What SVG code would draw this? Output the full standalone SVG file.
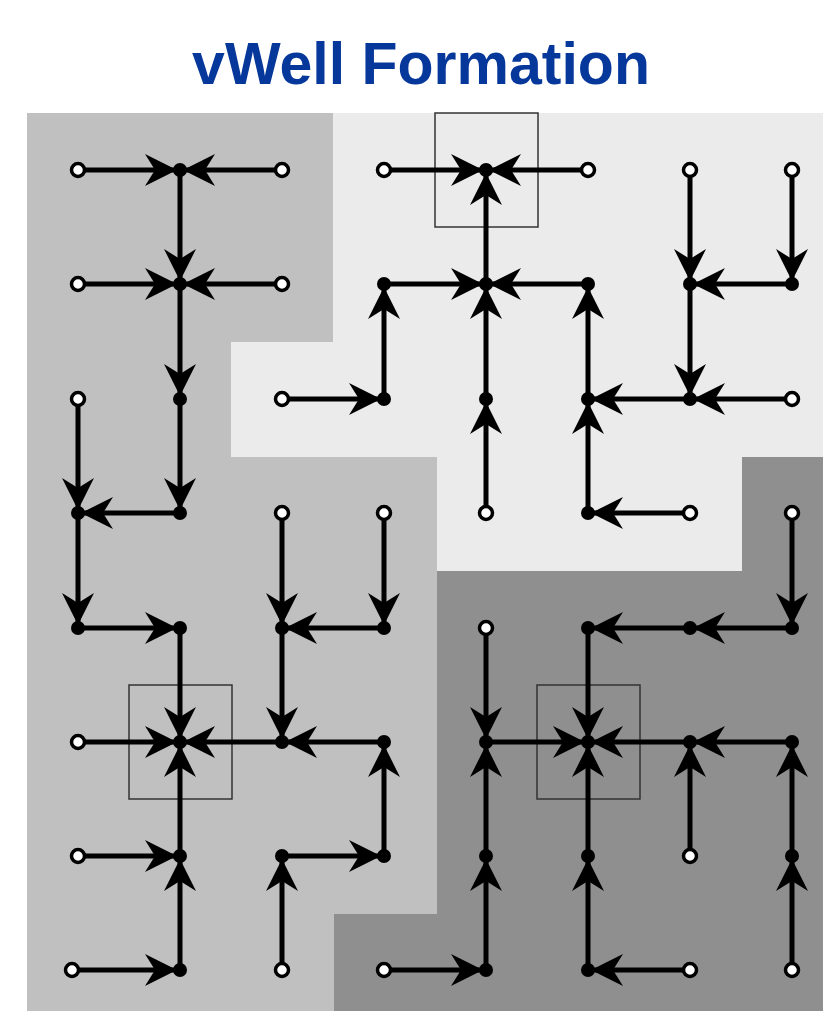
<svg xmlns="http://www.w3.org/2000/svg" width="823" height="1011" viewBox="0 0 823 1011">
<style>
.e{stroke:#000;stroke-width:5;fill:none;marker-end:url(#ah)}
.o{fill:#fff;stroke:#000;stroke-width:3.5}
.d{fill:#000}
.box{fill:none;stroke:#333;stroke-width:1.5}
.title{font-family:"Liberation Sans",Arial,sans-serif;font-weight:bold;font-size:59px;fill:#06379a}
</style>
<defs>
<marker id="ah" viewBox="-38 -17 42 34" refX="0" refY="0" markerWidth="42" markerHeight="34" markerUnits="userSpaceOnUse" orient="auto">
<path d="M-3,0 L-35,-16 L-25,0 L-35,16 Z" fill="#000"/>
</marker>
</defs>
<rect width="823" height="1011" fill="#fff"/>
<text class="title" x="421" y="84" text-anchor="middle">vWell Formation</text>
<g id="regions">
<polygon fill="#c0c0c0" points="27,113 333,113 333,342 231,342 231,457 437,457 437,914 334,914 334,1011 27,1011"/>
<polygon fill="#ebebeb" points="333,113 823,113 823,457 742,457 742,571 437,571 437,457 231,457 231,342 333,342"/>
<polygon fill="#8f8f8f" points="742,457 823,457 823,1011 334,1011 334,914 437,914 437,571 742,571"/>
</g>
<g id="boxes">
<rect class="box" x="435" y="113" width="103" height="114"/>
<rect class="box" x="129" y="685" width="103" height="114"/>
<rect class="box" x="537" y="685" width="103" height="114"/>
</g>
<g id="connectors">
<line class="e" x1="78" y1="170" x2="180" y2="170"/>
<line class="e" x1="282" y1="170" x2="180" y2="170"/>
<line class="e" x1="180" y1="170" x2="180" y2="284"/>
<line class="e" x1="78" y1="284" x2="180" y2="284"/>
<line class="e" x1="282" y1="284" x2="180" y2="284"/>
<line class="e" x1="180" y1="284" x2="180" y2="399"/>
<line class="e" x1="78" y1="399" x2="78" y2="513"/>
<line class="e" x1="180" y1="399" x2="180" y2="513"/>
<line class="e" x1="180" y1="513" x2="78" y2="513"/>
<line class="e" x1="78" y1="513" x2="78" y2="628"/>
<line class="e" x1="78" y1="628" x2="180" y2="628"/>
<line class="e" x1="180" y1="628" x2="180" y2="742"/>
<line class="e" x1="282" y1="513" x2="282" y2="628"/>
<line class="e" x1="384" y1="513" x2="384" y2="628"/>
<line class="e" x1="384" y1="628" x2="282" y2="628"/>
<line class="e" x1="282" y1="628" x2="282" y2="742"/>
<line class="e" x1="78" y1="742" x2="180" y2="742"/>
<line class="e" x1="282" y1="742" x2="180" y2="742"/>
<line class="e" x1="384" y1="742" x2="282" y2="742"/>
<line class="e" x1="180" y1="856" x2="180" y2="742"/>
<line class="e" x1="78" y1="856" x2="180" y2="856"/>
<line class="e" x1="180" y1="970" x2="180" y2="856"/>
<line class="e" x1="72" y1="970" x2="180" y2="970"/>
<line class="e" x1="282" y1="970" x2="282" y2="856"/>
<line class="e" x1="282" y1="856" x2="384" y2="856"/>
<line class="e" x1="384" y1="856" x2="384" y2="742"/>
<line class="e" x1="384" y1="170" x2="486" y2="170"/>
<line class="e" x1="588" y1="170" x2="486" y2="170"/>
<line class="e" x1="486" y1="284" x2="486" y2="170"/>
<line class="e" x1="384" y1="284" x2="486" y2="284"/>
<line class="e" x1="588" y1="284" x2="486" y2="284"/>
<line class="e" x1="486" y1="399" x2="486" y2="284"/>
<line class="e" x1="486" y1="513" x2="486" y2="399"/>
<line class="e" x1="384" y1="399" x2="384" y2="284"/>
<line class="e" x1="282" y1="399" x2="384" y2="399"/>
<line class="e" x1="588" y1="399" x2="588" y2="284"/>
<line class="e" x1="690" y1="399" x2="588" y2="399"/>
<line class="e" x1="588" y1="513" x2="588" y2="399"/>
<line class="e" x1="690" y1="513" x2="588" y2="513"/>
<line class="e" x1="690" y1="170" x2="690" y2="284"/>
<line class="e" x1="792" y1="170" x2="792" y2="284"/>
<line class="e" x1="792" y1="284" x2="690" y2="284"/>
<line class="e" x1="690" y1="284" x2="690" y2="399"/>
<line class="e" x1="792" y1="399" x2="690" y2="399"/>
<line class="e" x1="792" y1="513" x2="792" y2="628"/>
<line class="e" x1="792" y1="628" x2="690" y2="628"/>
<line class="e" x1="690" y1="628" x2="588" y2="628"/>
<line class="e" x1="588" y1="628" x2="588" y2="742"/>
<line class="e" x1="486" y1="628" x2="486" y2="742"/>
<line class="e" x1="486" y1="742" x2="588" y2="742"/>
<line class="e" x1="690" y1="742" x2="588" y2="742"/>
<line class="e" x1="792" y1="742" x2="690" y2="742"/>
<line class="e" x1="690" y1="856" x2="690" y2="742"/>
<line class="e" x1="792" y1="856" x2="792" y2="742"/>
<line class="e" x1="792" y1="970" x2="792" y2="856"/>
<line class="e" x1="588" y1="856" x2="588" y2="742"/>
<line class="e" x1="588" y1="970" x2="588" y2="856"/>
<line class="e" x1="690" y1="970" x2="588" y2="970"/>
<line class="e" x1="486" y1="856" x2="486" y2="742"/>
<line class="e" x1="486" y1="970" x2="486" y2="856"/>
<line class="e" x1="384" y1="970" x2="486" y2="970"/>
</g>
<g id="nodes">
<g id="n00"><circle class="o" cx="78" cy="170" r="6.5"/></g>
<g id="n10"><circle class="d" cx="180" cy="170" r="7"/></g>
<g id="n20"><circle class="o" cx="282" cy="170" r="6.5"/></g>
<g id="n30"><circle class="o" cx="384" cy="170" r="6.5"/></g>
<g id="n40"><circle class="d" cx="486" cy="170" r="7"/></g>
<g id="n50"><circle class="o" cx="588" cy="170" r="6.5"/></g>
<g id="n60"><circle class="o" cx="690" cy="170" r="6.5"/></g>
<g id="n70"><circle class="o" cx="792" cy="170" r="6.5"/></g>
<g id="n01"><circle class="o" cx="78" cy="284" r="6.5"/></g>
<g id="n11"><circle class="d" cx="180" cy="284" r="7"/></g>
<g id="n21"><circle class="o" cx="282" cy="284" r="6.5"/></g>
<g id="n31"><circle class="d" cx="384" cy="284" r="7"/></g>
<g id="n41"><circle class="d" cx="486" cy="284" r="7"/></g>
<g id="n51"><circle class="d" cx="588" cy="284" r="7"/></g>
<g id="n61"><circle class="d" cx="690" cy="284" r="7"/></g>
<g id="n71"><circle class="d" cx="792" cy="284" r="7"/></g>
<g id="n02"><circle class="o" cx="78" cy="399" r="6.5"/></g>
<g id="n12"><circle class="d" cx="180" cy="399" r="7"/></g>
<g id="n22"><circle class="o" cx="282" cy="399" r="6.5"/></g>
<g id="n32"><circle class="d" cx="384" cy="399" r="7"/></g>
<g id="n42"><circle class="d" cx="486" cy="399" r="7"/></g>
<g id="n52"><circle class="d" cx="588" cy="399" r="7"/></g>
<g id="n62"><circle class="d" cx="690" cy="399" r="7"/></g>
<g id="n72"><circle class="o" cx="792" cy="399" r="6.5"/></g>
<g id="n03"><circle class="d" cx="78" cy="513" r="7"/></g>
<g id="n13"><circle class="d" cx="180" cy="513" r="7"/></g>
<g id="n23"><circle class="o" cx="282" cy="513" r="6.5"/></g>
<g id="n33"><circle class="o" cx="384" cy="513" r="6.5"/></g>
<g id="n43"><circle class="o" cx="486" cy="513" r="6.5"/></g>
<g id="n53"><circle class="d" cx="588" cy="513" r="7"/></g>
<g id="n63"><circle class="o" cx="690" cy="513" r="6.5"/></g>
<g id="n73"><circle class="o" cx="792" cy="513" r="6.5"/></g>
<g id="n04"><circle class="d" cx="78" cy="628" r="7"/></g>
<g id="n14"><circle class="d" cx="180" cy="628" r="7"/></g>
<g id="n24"><circle class="d" cx="282" cy="628" r="7"/></g>
<g id="n34"><circle class="d" cx="384" cy="628" r="7"/></g>
<g id="n44"><circle class="o" cx="486" cy="628" r="6.5"/></g>
<g id="n54"><circle class="d" cx="588" cy="628" r="7"/></g>
<g id="n64"><circle class="d" cx="690" cy="628" r="7"/></g>
<g id="n74"><circle class="d" cx="792" cy="628" r="7"/></g>
<g id="n05"><circle class="o" cx="78" cy="742" r="6.5"/></g>
<g id="n15"><circle class="d" cx="180" cy="742" r="7"/></g>
<g id="n25"><circle class="d" cx="282" cy="742" r="7"/></g>
<g id="n35"><circle class="d" cx="384" cy="742" r="7"/></g>
<g id="n45"><circle class="d" cx="486" cy="742" r="7"/></g>
<g id="n55"><circle class="d" cx="588" cy="742" r="7"/></g>
<g id="n65"><circle class="d" cx="690" cy="742" r="7"/></g>
<g id="n75"><circle class="d" cx="792" cy="742" r="7"/></g>
<g id="n06"><circle class="o" cx="78" cy="856" r="6.5"/></g>
<g id="n16"><circle class="d" cx="180" cy="856" r="7"/></g>
<g id="n26"><circle class="d" cx="282" cy="856" r="7"/></g>
<g id="n36"><circle class="d" cx="384" cy="856" r="7"/></g>
<g id="n46"><circle class="d" cx="486" cy="856" r="7"/></g>
<g id="n56"><circle class="d" cx="588" cy="856" r="7"/></g>
<g id="n66"><circle class="o" cx="690" cy="856" r="6.5"/></g>
<g id="n76"><circle class="d" cx="792" cy="856" r="7"/></g>
<g id="n07"><circle class="o" cx="72" cy="970" r="6.5"/></g>
<g id="n17"><circle class="d" cx="180" cy="970" r="7"/></g>
<g id="n27"><circle class="o" cx="282" cy="970" r="6.5"/></g>
<g id="n37"><circle class="o" cx="384" cy="970" r="6.5"/></g>
<g id="n47"><circle class="d" cx="486" cy="970" r="7"/></g>
<g id="n57"><circle class="d" cx="588" cy="970" r="7"/></g>
<g id="n67"><circle class="o" cx="690" cy="970" r="6.5"/></g>
<g id="n77"><circle class="o" cx="792" cy="970" r="6.5"/></g>
</g>
</svg>
